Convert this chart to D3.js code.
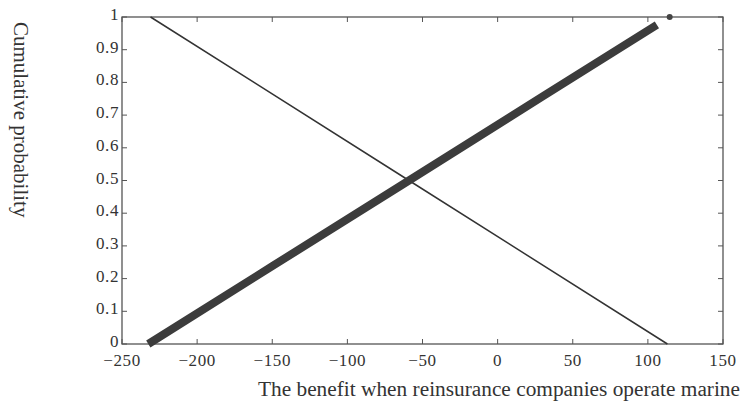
<!DOCTYPE html>
<html>
<head>
	<meta charset="utf-8">
	<script src="https://d3js.org/d3.v7.min.js"></script>
	<style>
		body { margin: 0; background: #fff; }
		text { font-family: "Liberation Serif", "Times New Roman", serif; fill: #333; }
	</style>
</head>
<body>
	<script type="text/javascript">
		// values
		var xTicks = [-250, -200, -150, -100, -50, 0, 50, 100, 150];
		var yTicks = [0, 0.1, 0.2, 0.3, 0.4, 0.5, 0.6, 0.7, 0.8, 0.9, 1];
		var yTickLabels = ["0", "0.1", "0.2", "0.3", "0.4", "0.5", "0.6", "0.7", "0.8", "0.9", "1"];

		// thick line (dense markers) and its lone end point
		var riseX = [-232.5, -150, -59, 30, 106];
		var riseP = [0, 0.238, 0.5, 0.757, 0.976];
		var riseEndX = [114.5];
		var riseEndP = [1];

		// thin falling line
		var fallX = [-231, -59, 113];
		var fallP = [1, 0.5, 0];

		var width = 741, height = 412;
		var plotL = 122, plotR = 723, plotT = 17, plotB = 344;

		var svg = d3.select('body').append('svg')
			.attr('width', width)
			.attr('height', height);

		var x = d3.scaleLinear().domain([-250, 150]).range([plotL, plotR]);
		var y = d3.scaleLinear().domain([0, 1]).range([plotB, plotT]);

		// frame
		svg.append('rect')
			.attr('x', plotL).attr('y', plotT)
			.attr('width', plotR - plotL).attr('height', plotB - plotT)
			.attr('fill', 'none')
			.attr('stroke', '#555')
			.attr('stroke-width', 1.3);

		// inward ticks on all four sides
		var tk = 5;
		svg.selectAll('.xtb').data(xTicks).enter().append('line')
			.attr('x1', d => x(d)).attr('x2', d => x(d))
			.attr('y1', plotB).attr('y2', plotB - tk)
			.attr('stroke', '#555');
		svg.selectAll('.xtt').data(xTicks).enter().append('line')
			.attr('x1', d => x(d)).attr('x2', d => x(d))
			.attr('y1', plotT).attr('y2', plotT + tk)
			.attr('stroke', '#555');
		svg.selectAll('.ytl').data(yTicks).enter().append('line')
			.attr('x1', plotL).attr('x2', plotL + tk)
			.attr('y1', d => y(d)).attr('y2', d => y(d))
			.attr('stroke', '#555');
		svg.selectAll('.ytr').data(yTicks).enter().append('line')
			.attr('x1', plotR).attr('x2', plotR - tk)
			.attr('y1', d => y(d)).attr('y2', d => y(d))
			.attr('stroke', '#555');

		// tick labels
		svg.selectAll('.xl').data(xTicks).enter().append('text')
			.attr('x', d => x(d))
			.attr('y', plotB + 22)
			.attr('text-anchor', 'middle')
			.style('font-size', '17px')
			.style('letter-spacing', '0.6px')
			.text(d => d < 0 ? '\u2212' + Math.abs(d) : d);
		svg.selectAll('.yl').data(yTicks).enter().append('text')
			.attr('x', plotL - 3)
			.attr('y', d => y(d) + 3)
			.attr('text-anchor', 'end')
			.style('font-size', '17px')
			.style('letter-spacing', '0.6px')
			.text((d, i) => yTickLabels[i]);

		// lines
		var line = d3.line().x(d => x(d[0])).y(d => y(d[1]));

		svg.append('path')
			.datum(fallX.map((v, i) => [v, fallP[i]]))
			.attr('d', line)
			.attr('fill', 'none')
			.attr('stroke', '#333')
			.attr('stroke-width', 1.5);

		svg.append('path')
			.datum(riseX.map((v, i) => [v, riseP[i]]))
			.attr('d', line)
			.attr('fill', 'none')
			.attr('stroke', '#3c3c3c')
			.attr('stroke-width', 8);

		svg.selectAll('.endpt').data(riseEndX).enter().append('circle')
			.attr('cx', d => x(d))
			.attr('cy', (d, i) => y(riseEndP[i]))
			.attr('r', 3)
			.attr('fill', '#444');

		// axis titles
		svg.append('text')
			.attr('transform', 'translate(14,22) rotate(90)')
			.attr('text-anchor', 'start')
			.style('font-size', '21px')
			.text('Cumulative probability');

		svg.append('text')
			.attr('x', 258)
			.attr('y', 396)
			.attr('textLength', 482)
			.attr('lengthAdjust', 'spacingAndGlyphs')
			.style('font-size', '20.5px')
			.text('The benefit when reinsurance companies operate marine');
	</script>
</body>
</html>
